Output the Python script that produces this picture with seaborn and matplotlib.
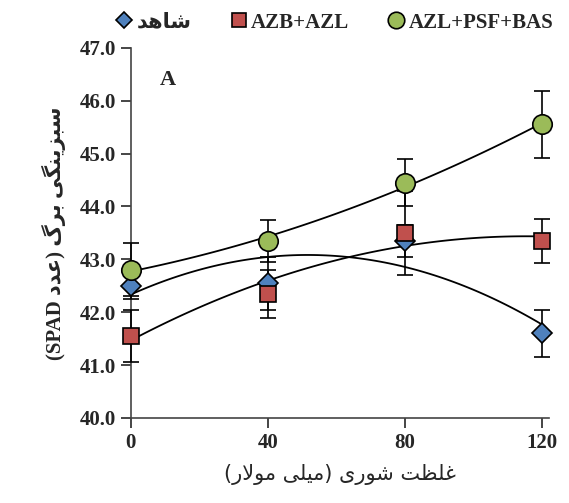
import numpy as np
import pandas as pd
import matplotlib
matplotlib.use("Agg")
import matplotlib.pyplot as plt
import seaborn as sns

# salinity levels (mM)
salinity = [0, 40, 80, 120]

# SPAD values
control = [42.5, 42.55, 43.35, 41.6]
azb_azl = [41.55, 42.35, 43.5, 43.35]
azl_psf_bas = [42.8, 43.35, 44.45, 45.55]

# error bars
control_err = [0.25, 0.5, 0.3, 0.45]
azb_azl_err = [0.5, 0.45, 0.8, 0.42]
azl_psf_bas_err = [0.5, 0.4, 0.45, 0.63]

# Persian labels, pre-shaped (presentation forms, visual order)
lbl_control = "\uFEAA\uFEEB\uFE8E\uFEB7"  # شاهد
ylabel = ("(SPAD " + "\uFEA9\uFEAA\uFECB" + ") " + "\uFB92\uFEAE\uFE91" + " "
          + "\uFBFD\uFB95\uFEE8\uFBFE\uFEB0\uFE92\uFEB3")  # سبزینگی برگ (عدد SPAD)
xlabel = ("(" + "\uFEAD\uFEFB\uFEEE\uFEE3" + " " + "\uFBFD\uFEE0\uFBFF\uFEE3" + ") "
          + "\uFBFC\uFEAD\uFEEE\uFEB7" + " " + "\uFE96\uFEC8\uFEE0\uFECF")  # غلظت شوری (میلی مولار)

sns.set_style("ticks")
plt.rcParams['font.family'] = ['Liberation Serif', 'DejaVu Sans']
plt.rcParams['font.weight'] = 'bold'

fig = plt.figure(figsize=(5.69, 5.03), dpi=100)
ax = fig.add_axes([0.230, 0.169, 0.735, 0.736])

series = [
    (lbl_control, control, control_err, "D", "#4f81bd", 10),
    ("AZB+AZL", azb_azl, azb_azl_err, "s", "#c0504d", 12),
    ("AZL+PSF+BAS", azl_psf_bas, azl_psf_bas_err, "o", "#9bbb59", 14),
]

# trend lines (2nd order polynomial)
for name, vals, err, mk, col, ms in series:
    df = pd.DataFrame({"x": salinity, "y": vals})
    sns.regplot(data=df, x="x", y="y", order=2, ci=None, scatter=False, ax=ax,
                line_kws=dict(color="black", lw=1.3, zorder=2))

handles = []
for name, vals, err, mk, col, ms in series:
    eb = ax.errorbar(salinity, vals, yerr=err, fmt="none", ecolor="black",
                     elinewidth=1.2, capsize=6, capthick=1.2, zorder=3)
    for art in eb.lines[1] + eb.lines[2]:
        art.set_clip_on(False)
    h, = ax.plot(salinity, vals, linestyle="none", marker=mk, markersize=ms,
                 markerfacecolor=col, markeredgecolor="black", markeredgewidth=1.2,
                 label=name, zorder=4, clip_on=False)
    handles.append(h)

ax.set_xlim(0, 122)
ax.set_ylim(40, 47)
ax.set_xticks(salinity)
ax.set_yticks(np.arange(40, 47.5, 1))
ax.set_yticklabels([f"{v:.1f}" for v in np.arange(40, 47.5, 1)])
ax.tick_params(axis="both", labelsize=15, length=7, width=1.2, direction="out")
for s in ["left", "bottom"]:
    ax.spines[s].set_linewidth(1.2)
    ax.spines[s].set_color("#444444")
sns.despine(ax=ax)

ax.set_xlabel(xlabel, fontsize=15, fontweight="normal", family=["DejaVu Sans"], labelpad=8)
ax.set_ylabel(ylabel, fontsize=15, fontweight="bold", family=["Liberation Serif", "DejaVu Sans"], labelpad=10)
ax.text(0.07, 0.94, "A", transform=ax.transAxes, fontsize=16, fontweight="bold", va="top")

fig.legend(handles=handles, loc="upper right", bbox_to_anchor=(0.995, 1.0), ncol=3,
           frameon=False, fontsize=15, handletextpad=0.15, columnspacing=1.8,
           borderaxespad=0.2, handlelength=0.9, markerscale=0.85)

fig.savefig("out.png", dpi=100)
